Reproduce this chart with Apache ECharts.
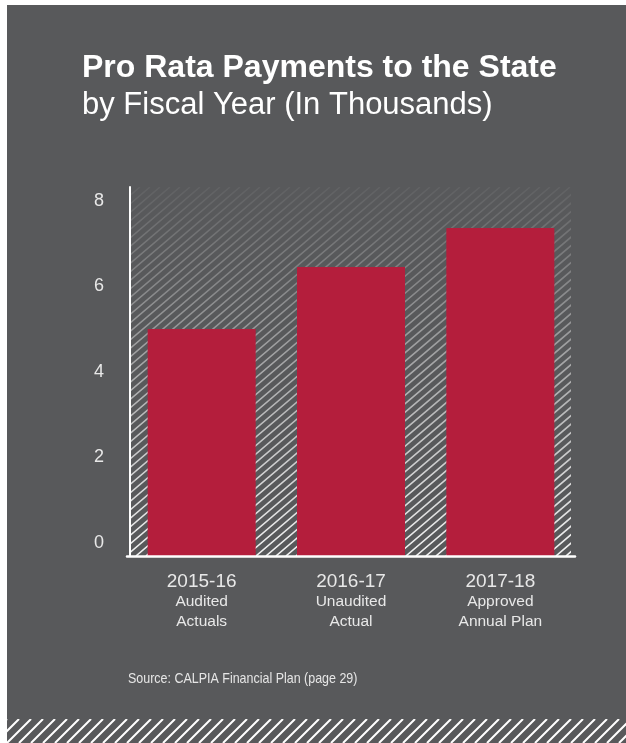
<!DOCTYPE html>
<html><head><meta charset="utf-8">
<script src="https://cdn.jsdelivr.net/npm/echarts@6/dist/echarts.min.js"></script>
<style>html,body{margin:0;padding:0;background:#fff}#c{width:626px;height:743px}</style>
</head><body><div id="c"></div>
<script>
// ---- data ----
const categories = ['2015-16', '2016-17', '2017-18'];
const categoryNotes = [['Audited', 'Actuals'], ['Unaudited', 'Actual'], ['Approved', 'Annual Plan']];
const values = [5.3, 6.75, 7.66];
const yTickLabels = [0, 2, 4, 6, 8];
const titleText = 'Pro Rata Payments to the State';
const subtitleText = 'by Fiscal Year (In Thousands)';
const sourceText = 'Source: CALPIA Financial Plan (page 29)';

// ---- decorative hatching ----
function hatchCanvas(w, h, period, slope, lw, alphaTop, alphaBot) {
  const c = document.createElement('canvas');
  c.width = w; c.height = h;
  const ctx = c.getContext('2d');
  const g = ctx.createLinearGradient(0, 0, 0, h);
  g.addColorStop(0, 'rgba(255,255,255,' + alphaTop + ')');
  g.addColorStop(1, 'rgba(255,255,255,' + alphaBot + ')');
  ctx.strokeStyle = g;
  ctx.lineWidth = lw;
  const run = h / slope;
  ctx.beginPath();
  for (let x0 = -run - period; x0 < w + period; x0 += period) {
    ctx.moveTo(x0, h);
    ctx.lineTo(x0 + run, 0);
  }
  ctx.stroke();
  return c;
}
const plotHatch = hatchCanvas(441, 369, 10, 0.85, 1.6, 0.05, 0.92);
const footHatch = hatchCanvas(619, 24, 12, 1.0, 2, 1, 1);

const BG = '#58595b';
const chart = echarts.init(document.getElementById('c'));
chart.setOption({
  backgroundColor: BG,
  animation: false,
  title: [
    { text: titleText, left: 77, top: 47, padding: 5,
      textStyle: { color: '#ffffff', fontFamily: 'Liberation Sans, Arial, sans-serif', fontWeight: 'bold', fontSize: 32, lineHeight: 32 } },
    { text: subtitleText, left: 77, top: 85, padding: 5,
      textStyle: { color: '#ffffff', fontFamily: 'Liberation Sans, Arial, sans-serif', fontWeight: 'normal', fontSize: 31, lineHeight: 31 } }
  ],
  graphic: [
    { type: 'image', z: 0, silent: true, style: { image: plotHatch, x: 130, y: 187, width: 441, height: 369 } },
    { type: 'image', z: 0, silent: true, style: { image: footHatch, x: 7, y: 719, width: 619, height: 24 } },
    { type: 'text', z: 3, silent: true, x: 128, y: 679, scaleX: 0.86,
      style: { text: sourceText, fill: '#e6e6e6', font: '14.5px "Liberation Sans", Arial, sans-serif', verticalAlign: 'middle', align: 'left' } },
    { type: 'rect', z: 20, silent: true, shape: { x: 0, y: 0, width: 626, height: 5 }, style: { fill: '#ffffff' } },
    { type: 'rect', z: 20, silent: true, shape: { x: 0, y: 0, width: 7, height: 743 }, style: { fill: '#ffffff' } }
  ],
  grid: { left: 127, right: 51, top: 187, bottom: 187, containLabel: false },
  xAxis: {
    type: 'category', data: categories, z: 5,
    axisLine: { show: true, lineStyle: { color: '#ffffff', width: 2.5 } },
    axisTick: { show: false },
    axisLabel: {
      interval: 0, margin: 16,
      formatter: function (v, i) {
        return '{y|' + v + '}\n' + categoryNotes[i].map(function (s) { return '{n|' + s + '}'; }).join('\n');
      },
      rich: {
        y: { color: '#e8e8e8', fontFamily: 'Liberation Sans, Arial, sans-serif', fontSize: 19, lineHeight: 20 },
        n: { color: '#e8e8e8', fontFamily: 'Liberation Sans, Arial, sans-serif', fontSize: 15.5, lineHeight: 19.5 }
      }
    }
  },
  yAxis: {
    type: 'value', min: 0, max: 8.62, interval: 2, offset: -3, z: 5,
    axisLine: { show: true, lineStyle: { color: '#ffffff', width: 2 } },
    axisTick: { show: false },
    splitLine: { show: false },
    axisLabel: {
      showMaxLabel: false, margin: 26, verticalAlign: 'middle', lineHeight: 26,
      color: '#e8e8e8', fontFamily: 'Liberation Sans, Arial, sans-serif', fontSize: 18,
      formatter: function (v) { return yTickLabels.indexOf(v) >= 0 ? String(v) + '\n ' : ''; }
    }
  },
  series: [{
    type: 'bar', data: values, barWidth: 108, z: 2,
    itemStyle: { color: '#b41e3c' }
  }]
});
</script>
</body></html>
